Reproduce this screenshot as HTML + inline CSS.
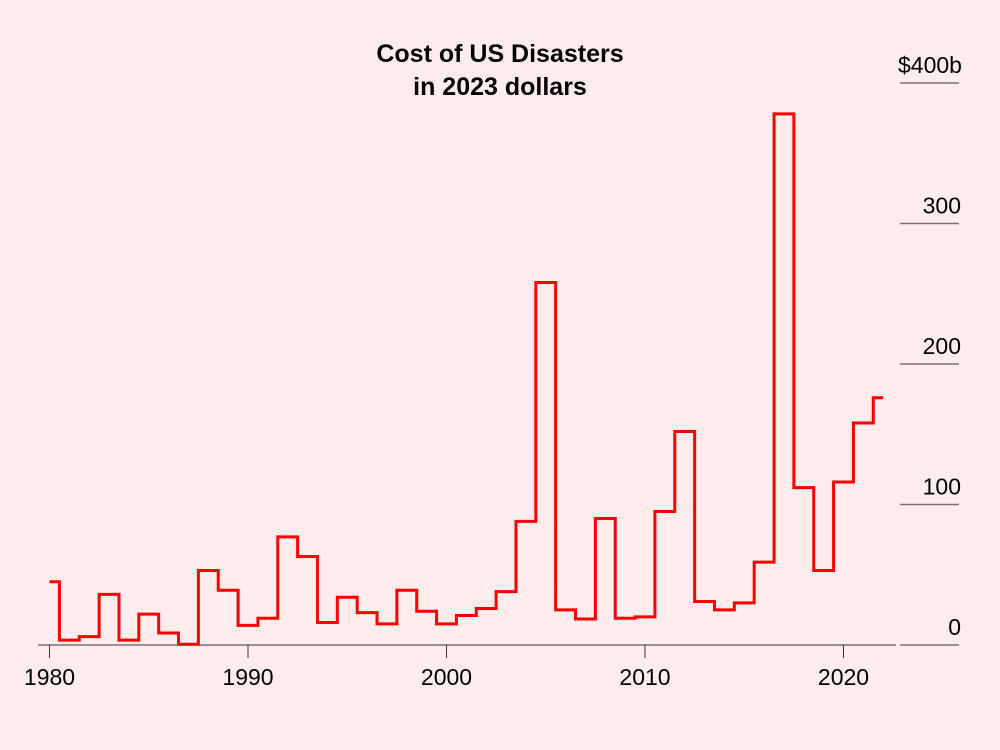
<!DOCTYPE html>
<html><head><meta charset="utf-8"><style>
body{margin:0;background:#ffeded;}
svg{display:block;font-family:"Liberation Sans",sans-serif;}
</style></head><body>
<svg width="1000" height="750">
<rect width="1000" height="750" fill="#ffeded"/>
<text x="500" y="62" text-anchor="middle" font-size="25" font-weight="bold" fill="#000">Cost of US Disasters</text>
<text x="500" y="95" text-anchor="middle" font-size="25" font-weight="bold" fill="#000">in 2023 dollars</text>
<g id="yaxis"></g><g id="xaxis"></g>
<path id="line" fill="none" stroke="#ff0000" stroke-width="3" stroke-linejoin="miter"/>
</svg>
<script>
const years=[];for(let y=1980;y<=2022;y++)years.push(y);
const costs=[45,3.5,6,36,3.5,22,8.5,0.5,53,39,14,19,77,63,16,34,23,15,39,24,15,21,26,38,88,258,25,18.5,90,19,20,95,152,31,25,30,59,378,112,53,116,158,176];
const yTicks=[0,100,200,300,400];
const yTickLabels=["0","100","200","300","$400b"];
const xTicks=[1980,1990,2000,2010,2020];
const NS="http://www.w3.org/2000/svg";
const X=v=>49.5+(v-1980)*19.85;
const Y=v=>645-v*1.405;
const ya=document.getElementById('yaxis'),xa=document.getElementById('xaxis');
function mk(t,a,p){const e=document.createElementNS(NS,t);for(const k in a)e.setAttribute(k,a[k]);p.appendChild(e);return e;}
yTicks.forEach((v,i)=>{
 const l=mk('line',{x1:900,x2:959,y1:Y(v),y2:Y(v),stroke:'#7a7074','stroke-width':1.5},ya);
 
 
 const lab=yTickLabels[i];
 const t=mk('text',{x:lab.endsWith('b')?898:961,y:Y(v)-10,'text-anchor':lab.endsWith('b')?'start':'end','font-size':23,fill:'#000'},ya);
 t.textContent=lab;
 
 
});
const base=mk('line',{x1:38,x2:896,y1:645,y2:645,stroke:'#7a7074','stroke-width':1.5},xa);


xTicks.forEach(v=>{
 const l=mk('line',{x1:X(v),x2:X(v),y1:645,y2:658,stroke:'#333','stroke-width':1},xa);
 
 
 const t=mk('text',{x:X(v),y:685,'text-anchor':'middle','font-size':23,fill:'#000'},xa);
 t.textContent=v;
 
 
});
let d='';
years.forEach((yr,i)=>{
 const x0=i===0?X(yr):X(yr)-9.925, x1=i===years.length-1?X(yr):X(yr)+9.925;
 d+=(i===0?'M':'L')+x0+','+Y(costs[i])+'L'+x1+','+Y(costs[i]);
});
document.getElementById('line').setAttribute('d',d);
</script>
</body></html>
